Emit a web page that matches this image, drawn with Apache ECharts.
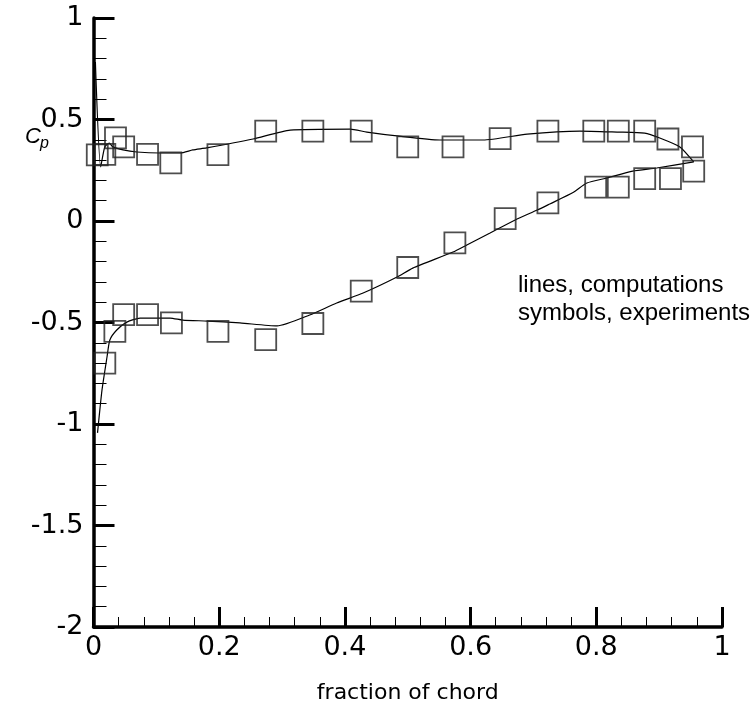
<!DOCTYPE html>
<html>
<head>
<meta charset="utf-8">
<script src="https://cdn.jsdelivr.net/npm/echarts@6/dist/echarts.min.js"></script>
<style>
  html, body { margin: 0; padding: 0; background: #ffffff; }
  #chart { width: 752px; height: 709px; }
</style>
</head>
<body>
<div id="chart"></div>
<script>
// Computed pressure coefficient, upper surface (x/c, Cp)
const upperCalcX  = [0.003, 0.0114, 0.018, 0.025, 0.031, 0.047, 0.069, 0.106, 0.138, 0.158, 0.18, 0.254, 0.313, 0.408, 0.435, 0.483, 0.551, 0.620, 0.690, 0.774, 0.833, 0.877, 0.901, 0.933, 0.955];
const upperCalcCp = [0.783, 0.267, 0.366, 0.384, 0.365, 0.350, 0.340, 0.335, 0.335, 0.350, 0.360, 0.404, 0.448, 0.453, 0.438, 0.419, 0.399, 0.399, 0.428, 0.443, 0.438, 0.433, 0.409, 0.365, 0.291];

// Computed pressure coefficient, lower surface
const lowerCalcX  = [0.0064, 0.0135, 0.0215, 0.026, 0.037, 0.053, 0.074, 0.095, 0.122, 0.142, 0.181, 0.233, 0.292, 0.344, 0.387, 0.429, 0.483, 0.508, 0.572, 0.594, 0.631, 0.671, 0.706, 0.726, 0.763, 0.785, 0.817, 0.858, 0.896, 0.955];
const lowerCalcCp = [-1.044, -0.833, -0.670, -0.586, -0.537, -0.498, -0.478, -0.478, -0.478, -0.488, -0.493, -0.502, -0.517, -0.463, -0.404, -0.355, -0.276, -0.232, -0.153, -0.118, -0.059, 0.005, 0.054, 0.084, 0.140, 0.187, 0.212, 0.246, 0.261, 0.291];

// Measured pressure taps, upper surface
const upperExpX  = [0.006, 0.018, 0.035, 0.048, 0.086, 0.123, 0.198, 0.274, 0.349, 0.426, 0.500, 0.572, 0.647, 0.723, 0.796, 0.835, 0.877, 0.914, 0.953];
const upperExpCp = [0.326, 0.328, 0.409, 0.365, 0.328, 0.286, 0.327, 0.443, 0.443, 0.443, 0.365, 0.365, 0.406, 0.443, 0.443, 0.443, 0.443, 0.404, 0.365];

// Measured pressure taps, lower surface
const lowerExpX  = [0.018, 0.034, 0.048, 0.086, 0.124, 0.198, 0.274, 0.349, 0.426, 0.500, 0.575, 0.655, 0.723, 0.799, 0.835, 0.877, 0.918, 0.955];
const lowerExpCp = [-0.700, -0.544, -0.461, -0.461, -0.502, -0.544, -0.584, -0.505, -0.345, -0.229, -0.108, 0.012, 0.089, 0.167, 0.167, 0.209, 0.209, 0.246];

// Axis ranges and steps
const xRange = [0, 1, 0.2];
const yRange = [-2, 1, 0.5];

const pairs = (xs, ys) => xs.map((x, i) => [x, ys[i]]);

const axisFont = 'DejaVu Sans';
const textFont = '"Liberation Sans", Arial, Helvetica, sans-serif';

const chart = echarts.init(document.getElementById('chart'), null, { renderer: 'canvas' });

const lineStyle = { color: '#000000', width: 1.2 };
const squareStyle = { color: 'transparent', borderColor: '#222222', borderWidth: 1.8 };

chart.setOption({
  animation: false,
  backgroundColor: '#ffffff',
  grid: { left: 93.5, top: 18, width: 628.5, height: 609, containLabel: false },
  xAxis: {
    type: 'value',
    min: xRange[0], max: xRange[1], interval: xRange[2],
    name: 'fraction of chord',
    nameLocation: 'middle',
    nameGap: 55,
    nameTextStyle: { fontFamily: axisFont, fontSize: 22, color: '#000' },
    axisLine: { show: true, onZero: false, lineStyle: { color: '#000', width: 3.5 } },
    axisTick: { show: true, inside: true, length: 20, lineStyle: { color: '#000', width: 3 } },
    minorTick: { show: true, splitNumber: 5, length: 10, lineStyle: { color: '#000', width: 1 } },
    axisLabel: { fontFamily: axisFont, fontSize: 27, color: '#000', margin: 7 },
    splitLine: { show: false }
  },
  yAxis: {
    type: 'value',
    min: yRange[0], max: yRange[1], interval: yRange[2],
    axisLine: { show: true, onZero: false, lineStyle: { color: '#000', width: 3.5 } },
    axisTick: { show: true, inside: true, length: 21, lineStyle: { color: '#000', width: 3 } },
    minorTick: { show: true, splitNumber: 5, length: 13, lineStyle: { color: '#000', width: 1 } },
    axisLabel: { fontFamily: axisFont, fontSize: 27, color: '#000', margin: 10 },
    splitLine: { show: false }
  },
  graphic: [
    { type: 'text', left: 25, top: 126, style: { text: 'C', font: 'italic 22px "Liberation Sans", Arial, sans-serif', fill: '#000' } },
    { type: 'text', left: 40, top: 136, style: { text: 'p', font: 'italic 16px "Liberation Sans", Arial, sans-serif', fill: '#000' } },
    { type: 'text', x: 518, y: 285, style: { text: 'lines, computations', font: '24px ' + textFont, fill: '#000', verticalAlign: 'middle' } },
    { type: 'text', x: 518, y: 313, style: { text: 'symbols, experiments', font: '24px ' + textFont, fill: '#000', verticalAlign: 'middle' } }
  ],
  series: [
    { name: 'upper computed', type: 'line', data: pairs(upperCalcX, upperCalcCp), showSymbol: false, smooth: 0.2, lineStyle: lineStyle, z: 2 },
    { name: 'lower computed', type: 'line', data: pairs(lowerCalcX, lowerCalcCp), showSymbol: false, smooth: 0.2, lineStyle: lineStyle, z: 2 },
    { name: 'upper measured', type: 'scatter', data: pairs(upperExpX, upperExpCp), symbol: 'rect', symbolSize: 21, itemStyle: squareStyle, z: 3 },
    { name: 'lower measured', type: 'scatter', data: pairs(lowerExpX, lowerExpCp), symbol: 'rect', symbolSize: 21, itemStyle: squareStyle, z: 3 }
  ]
});
</script>
</body>
</html>
